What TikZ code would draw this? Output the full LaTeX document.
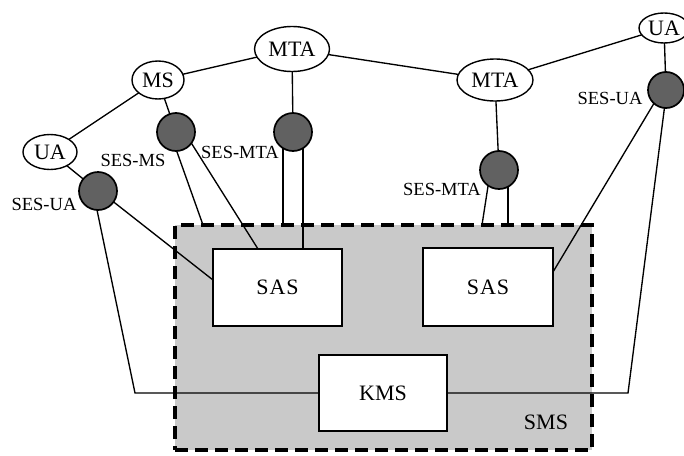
\documentclass[tikz,border=0pt]{standalone}
\usepackage{fontspec}
\setmainfont{Liberation Serif}
\newfontfamily\spacedA{Liberation Serif}[LetterSpace=4]
\usetikzlibrary{shapes.geometric}

\tikzset{
  agent/.style={ellipse, draw, line width=1.4pt, fill=white, inner sep=0pt, outer sep=0pt,
    font=\fontsize{22}{22}\selectfont},
  ses/.style={circle, draw, line width=1.7pt, fill=black!62, minimum size=38pt, inner sep=0pt, outer sep=0pt},
  seslabel/.style={font=\fontsize{18.5}{18.5}\selectfont, inner sep=0pt},
  server/.style={rectangle, draw, line width=1.5pt, fill=white, inner sep=0pt, outer sep=0pt,
    font=\fontsize{22}{22}\selectfont},
  smsbox/.style={rectangle, draw, fill=black!21, line width=3.2pt, dash pattern=on 13pt off 7pt,
    inner sep=0pt, outer sep=0pt},
  link/.style={line width=1.35pt}
}

\begin{document}
\begin{tikzpicture}[x=1pt,y=-1pt]
\useasboundingbox (0,0) rectangle (684,455);

% security management system and its servers
\node[smsbox, minimum width=417pt, minimum height=225pt] (sms) at (383.5,337.5) {};
\node[server, minimum width=129pt, minimum height=77pt, font=\spacedA\fontsize{22}{22}\selectfont] (sasL) at (277.5,287.5) {SAS};
\node[server, minimum width=130pt, minimum height=78pt, font=\spacedA\fontsize{22}{22}\selectfont] (sasR) at (488,287) {SAS};
\node[server, minimum width=128pt, minimum height=76pt] (kms) at (383,393) {KMS};
\node[font=\fontsize{22}{22}\selectfont, inner sep=0pt] (smslabel) at (546,422) {SMS};

% message handling agents
\node[agent, minimum width=54pt, minimum height=35pt] (uaL) at (50,152) {UA};
\node[agent, minimum width=52pt, minimum height=38pt] (ms) at (158,80) {MS};
\node[agent, minimum width=75pt, minimum height=45pt] (mta1) at (292,49) {MTA};
\node[agent, minimum width=76pt, minimum height=42pt] (mta2) at (495,80) {MTA};
\node[agent, minimum width=50pt, minimum height=30pt] (uaR) at (664,28) {UA};

% secure end systems
\node[ses] (sesuaL) at (98,191) {};
\node[ses] (sesms) at (176,132) {};
\node[ses] (sesmta1) at (293,132) {};
\node[ses] (sesmta2) at (499,170) {};
\node[ses, minimum size=36pt] (sesuaR) at (666,90) {};

\node[seslabel] (lsesuaL) at (44,204) {SES-UA};
\node[seslabel] (lsesms) at (133,160) {SES-MS};
\node[seslabel] (lsesmta1) at (240,152) {SES-MTA};
\node[seslabel] (lsesmta2) at (442,189) {SES-MTA};
\node[seslabel] (lsesuaR) at (610,98) {SES-UA};

\coordinate (cornerL) at (135,393);
\coordinate (cornerR) at (628,393);

% message transfer backbone
\draw[link] (uaL) -- (ms);
\draw[link] (ms) -- (mta1);
\draw[link] (mta1) -- (mta2);
\draw[link] (mta2) -- (uaR);

% agents to their secure end systems
\draw[link] (uaL) -- (sesuaL);
\draw[link] (ms) -- (sesms);
\draw[link] (mta1) -- (sesmta1);
\draw[link] (mta2) -- (sesmta2);
\draw[link] (uaR) -- (sesuaR);

% secure end systems to the management system
\draw[link] (sesms.272) -- ([xshift=28pt]sms.north west);
\draw[link] (sesms.324) -- ([xshift=45pt]sasL.north west);
\draw[link] (sesmta1.238) -- (sesmta1.238 |- sms.north);
\draw[link] (sesmta1.302) -- (sesmta1.302 |- sasL.north);
\draw[link] (sesmta2.235) -- ([xshift=307pt]sms.north west);
\draw[link] (sesmta2.298) -- (sesmta2.298 |- sms.north);
\draw[link] (sesuaL.325) -- ([yshift=-31pt]sasL.north west);
\draw[link] (sesuaL.267) -- (cornerL) -- (kms.west);
\draw[link] (sesuaR.228) -- ([yshift=-24pt]sasR.north east);
\draw[link] (sesuaR.265) -- (cornerR) -- (kms.east);
\end{tikzpicture}
\end{document}
